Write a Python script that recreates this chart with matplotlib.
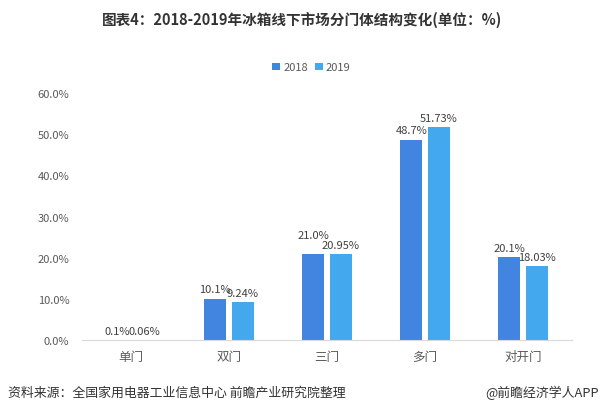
import numpy as np
import matplotlib.pyplot as plt

plt.rcParams['font.family'] = ['Noto Sans CJK SC', 'DejaVu Sans']

categories = ['单门', '双门', '三门', '多门', '对开门']
share_2018 = [0.1, 10.1, 21.0, 48.7, 20.1]
share_2019 = [0.06, 9.24, 20.95, 51.73, 18.03]
labels_2018 = ['0.1%', '10.1%', '21.0%', '48.7%', '20.1%']
labels_2019 = ['0.06%', '9.24%', '20.95%', '51.73%', '18.03%']
yticks = [0, 10, 20, 30, 40, 50, 60]

c2018 = '#4185e0'
c2019 = '#43a8ee'
txt = '#404040'

fig = plt.figure(figsize=(6.05, 4.14), dpi=100)
ax = fig.add_axes([0.1355, 0.176, 0.81, 0.597])

x = np.arange(len(categories))
w = 0.225
off = 0.14
b1 = ax.bar(x - off, share_2018, w, color=c2018, label='2018')
b2 = ax.bar(x + off, share_2019, w, color=c2019, label='2019')
t1 = ax.bar_label(b1, labels=labels_2018, padding=3, fontsize=8, color=txt)
t2 = ax.bar_label(b2, labels=labels_2019, padding=3, fontsize=8, color=txt)
# 三门 labels would collide, the original lifts the 2018 one
t1[2].set_y(t1[2].get_position()[1])
t1[2].xyann = (0, 10)

ax.set_xlim(-0.5, len(categories) - 0.5)
ax.set_ylim(0, 60)
ax.set_yticks(yticks)
ax.set_yticklabels([f'{v:.1f}%' for v in yticks], fontsize=8, color='#595959')
ax.set_xticks(x)
ax.set_xticklabels(categories, fontsize=9, color='#595959')
ax.tick_params(axis='both', length=0)
ax.tick_params(axis='y', pad=9)
ax.tick_params(axis='x', pad=7)
for s in ['top', 'right', 'left']:
    ax.spines[s].set_visible(False)
ax.spines['bottom'].set_color('#d9d9d9')

fig.legend(handles=[b1, b2], loc='center', bbox_to_anchor=(0.515, 0.835), ncol=2,
           frameon=False, fontsize=8, handlelength=0.7, handleheight=0.7,
           handletextpad=0.3, columnspacing=0.6, labelcolor='#595959')

fig.text(0.5, 0.951, '图表4：2018-2019年冰箱线下市场分门体结构变化(单位：%)',
         ha='center', va='center', fontsize=10.5, fontweight='bold', color='#333333')
fig.text(0.013, 0.05, '资料来源：全国家用电器工业信息中心 前瞻产业研究院整理',
         ha='left', va='center', fontsize=9.3, color='#333333')
fig.text(0.99, 0.05, '@前瞻经济学人APP', ha='right', va='center', fontsize=9.3, color='#333333')

fig.savefig('out.png', dpi=100)
